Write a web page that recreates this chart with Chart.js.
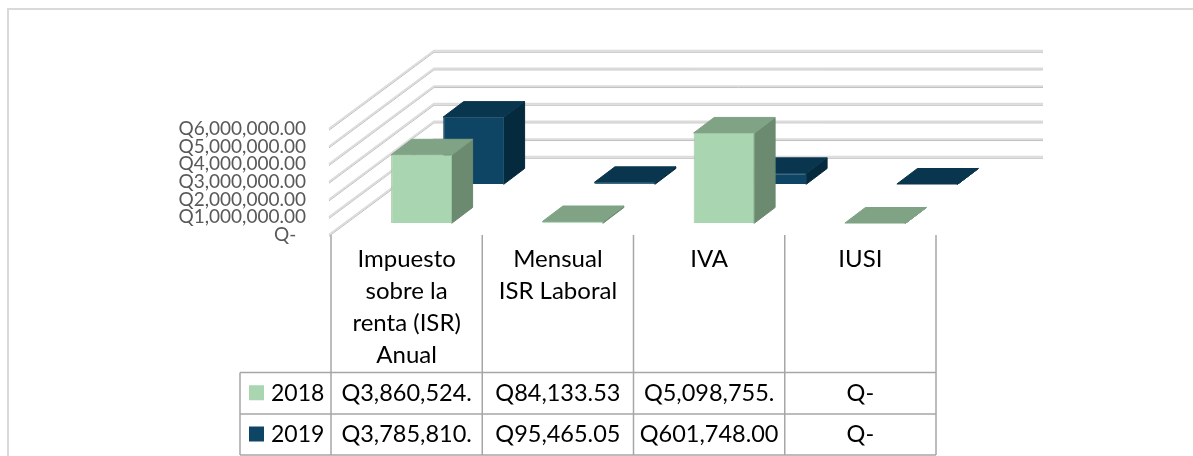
<!DOCTYPE html>
<html>
<head>
<meta charset="utf-8">
<title>Impuestos 2018 - 2019</title>
<script src="https://cdn.jsdelivr.net/npm/chart.js@4"></script>
<style>
    html, body { margin: 0; padding: 0; background: #fff; }
    canvas { display: block; }
</style>
</head>
<body>
<canvas id="chart" width="1193" height="456"></canvas>
<script>
const categories = [
    ['Impuesto', 'sobre la', 'renta (ISR)', 'Anual'],
    ['Mensual', 'ISR Laboral'],
    ['IVA'],
    ['IUSI']
];
const seriesNames = ['2018', '2019'];
const values2018 = [3860524, 84133.53, 5098755, 0];
const values2019 = [3785810, 95465.05, 601748, 0];
const tableRow2018 = ['Q3,860,524.', 'Q84,133.53', 'Q5,098,755.', 'Q-'];
const tableRow2019 = ['Q3,785,810.', 'Q95,465.05', 'Q601,748.00', 'Q-'];
const yTicks = ['Q-  ', 'Q1,000,000.00', 'Q2,000,000.00', 'Q3,000,000.00', 'Q4,000,000.00', 'Q5,000,000.00', 'Q6,000,000.00'];

const FONT = 'Lato, "Open Sans", sans-serif';
const WALL = { dx: 103, dy: -78, rightExtra: 4 };
const BAR_DEPTH = { dx: 20.5, dy: -15.5 };
const styles = [
    { front: '#a9d6b1', top: '#7fa384', side: '#6b8a6f', edge: '#9fc4a6', shift: { dx: 15, dy: -12 } },
    { front: '#0e4565', top: '#09364e', side: '#052a3d', edge: '#2a566f', shift: { dx: 67, dy: -51 } }
];

const wallPlugin = {
    id: 'wall',
    beforeDatasetsDraw(chart) {
        const { ctx, scales: { x, y } } = chart;
        ctx.save();
        // chart frame, only top and left are visible
        ctx.strokeStyle = '#d9d9d9';
        ctx.lineWidth = 2;
        ctx.beginPath();
        ctx.moveTo(8, 456);
        ctx.lineTo(8, 9);
        ctx.lineTo(1193, 9);
        ctx.stroke();

        const line = (yy) => {
            ctx.beginPath();
            ctx.moveTo(x.left - 2, yy);
            ctx.lineTo(x.left + WALL.dx, yy + WALL.dy);
            ctx.lineTo(x.right + WALL.dx + WALL.rightExtra, yy + WALL.dy);
            ctx.stroke();
        };
        y.ticks.forEach(t => {
            const yy = y.getPixelForValue(t.value);
            ctx.strokeStyle = '#b8b8b8';
            ctx.lineWidth = 1;
            line(yy + 1.2);
            ctx.strokeStyle = '#dcdcdc';
            ctx.lineWidth = 2;
            line(yy - 0.2);
        });
        ctx.restore();
    },
    beforeDatasetDraw(chart, args) {
        const { ctx } = chart;
        const st = styles[args.index];
        ctx.save();
        ctx.translate(st.shift.dx, st.shift.dy);
        const face = (pts, color) => {
            ctx.fillStyle = color;
            ctx.strokeStyle = color;
            ctx.lineWidth = 1;
            ctx.beginPath();
            pts.forEach((p, i) => i ? ctx.lineTo(p[0], p[1]) : ctx.moveTo(p[0], p[1]));
            ctx.closePath();
            ctx.fill();
            ctx.stroke();
        };
        args.meta.data.forEach(bar => {
            const { x, y, base, width } = bar.getProps(['x', 'y', 'base', 'width'], true);
            const l = x - width / 2;
            const r = x + width / 2;
            const d = BAR_DEPTH;
            // side and top run 1px under the front, so its soft edge shows no dark bar behind it
            face([[r - 1, base], [r, base], [r + d.dx, base + d.dy], [r + d.dx, y + d.dy], [r, y], [r - 1, y]], st.side);
            face([[l, y], [l + d.dx, y + d.dy], [r + d.dx, y + d.dy], [r, y]], st.top);
        });
    },
    afterDatasetDraw(chart) {
        chart.ctx.restore();
    }
};

const tablePlugin = {
    id: 'dataTable',
    afterDraw(chart) {
        const { ctx, scales: { x, y } } = chart;
        const rowY = [372.5, 414, 455];
        const tableLeft = 240;
        const band = (x.right - x.left) / categories.length;
        const rows = [tableRow2018, tableRow2019];
        ctx.save();
        ctx.strokeStyle = '#a6a6a6';
        ctx.lineWidth = 1.5;
        ctx.beginPath();
        rowY.forEach(ry => {
            ctx.moveTo(tableLeft, ry);
            ctx.lineTo(x.right, ry);
        });
        ctx.moveTo(tableLeft, rowY[0]);
        ctx.lineTo(tableLeft, rowY[2]);
        for (let i = 0; i <= categories.length; i++) {
            ctx.moveTo(x.left + band * i, y.bottom);
            ctx.lineTo(x.left + band * i, rowY[2]);
        }
        ctx.stroke();

        ctx.textBaseline = 'middle';
        rows.forEach((row, r) => {
            const cy = (rowY[r] + rowY[r + 1]) / 2;
            ctx.fillStyle = styles[r].front;
            ctx.fillRect(249, cy - 8, 15, 15);
            ctx.fillStyle = '#000';
            ctx.font = '23px ' + FONT;
            ctx.textAlign = 'left';
            ctx.fillText(seriesNames[r], 271, cy);
            ctx.font = '23.5px ' + FONT;
            ctx.textAlign = 'center';
            row.forEach((txt, i) => ctx.fillText(txt, x.getPixelForTick(i), cy));
        });
        ctx.restore();
    }
};

const makeDataset = (index, data) => ({
    label: seriesNames[index],
    data,
    backgroundColor: styles[index].front,
    borderColor: styles[index].edge,
    borderWidth: 1,
    barPercentage: 0.403,
    categoryPercentage: 1,
    grouped: false,
    clip: false,
    order: index + 1
});

new Chart(document.getElementById('chart'), {
    type: 'bar',
    data: {
        labels: categories,
        datasets: [makeDataset(0, values2018), makeDataset(1, values2019)]
    },
    options: {
        responsive: false,
        animation: false,
        layout: { padding: { top: 129, right: 257, left: 0, bottom: 0 } },
        plugins: { legend: { display: false }, tooltip: { enabled: false } },
        scales: {
            x: {
                afterFit(scale) { scale.height = 221; },
                grid: { display: false, drawTicks: false },
                border: { display: false },
                ticks: {
                    maxRotation: 0,
                    autoSkip: false,
                    padding: 8,
                    color: '#000',
                    font: { family: FONT, size: 24, lineHeight: '32px' }
                }
            },
            y: {
                min: 0,
                max: 6000000,
                afterFit(scale) { scale.width = 331; },
                grid: { display: false, drawTicks: false },
                border: { display: false },
                ticks: {
                    stepSize: 1000000,
                    autoSkip: false,
                    padding: 25,
                    color: '#595959',
                    font: { family: FONT, size: 19 },
                    callback: (value) => yTicks[value / 1000000]
                }
            }
        }
    },
    plugins: [wallPlugin, tablePlugin]
});
</script>
</body>
</html>
